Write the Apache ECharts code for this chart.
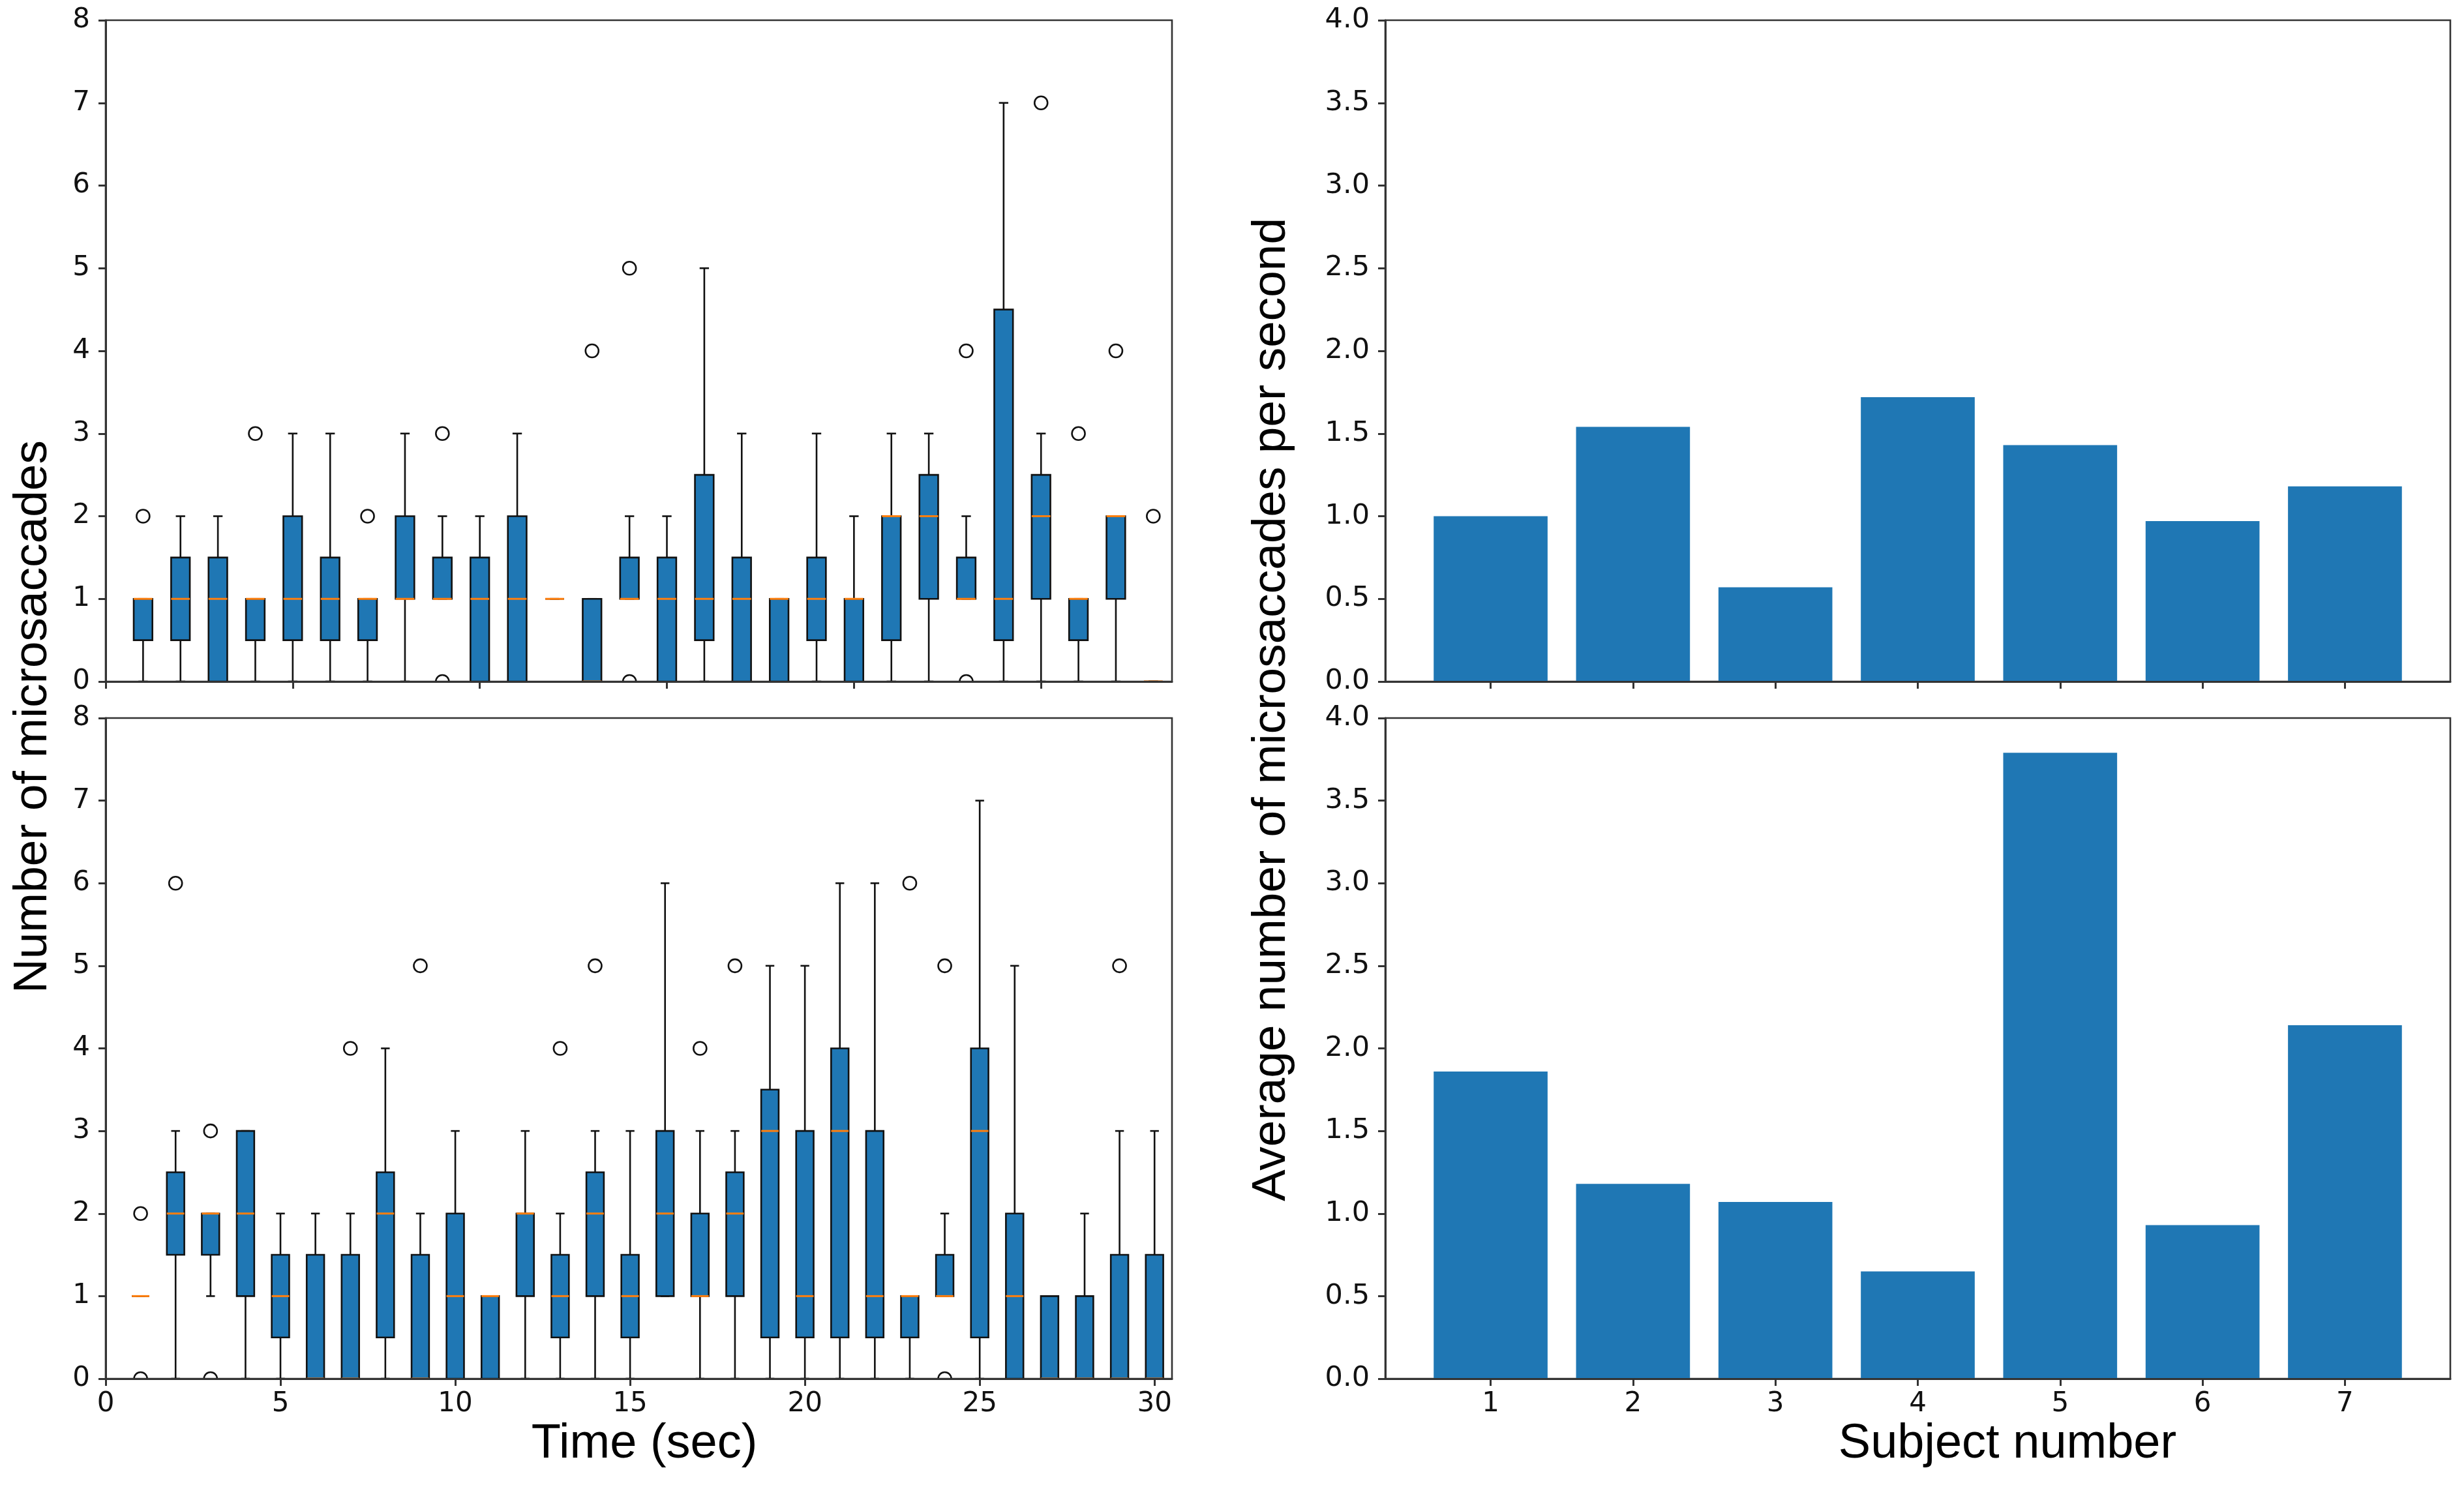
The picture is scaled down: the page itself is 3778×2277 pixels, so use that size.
<!DOCTYPE html>
<html>
<head>
<meta charset="utf-8">
<script src="https://cdn.jsdelivr.net/npm/echarts@6/dist/echarts.min.js"></script>
<style>
html,body{margin:0;padding:0;background:#fff;}
#chart{width:3778px;height:2277px;}
</style>
</head>
<body>
<div id="chart"></div>
<script>
// ---- Top-left boxplot (28 time bins) ----
const topLow  = [0,0,0,0,0,0,0,0,1,0,0,1,0,1,0,0,0,0,0,0,0,0,1,0,0,0,0,0];
const topQ1   = [0.5,0.5,0,0.5,0.5,0.5,0.5,1,1,0,0,1,0,1,0,0.5,0,0,0.5,0,0.5,1,1,0.5,1,0.5,1,0];
const topMed  = [1,1,1,1,1,1,1,1,1,1,1,1,0,1,1,1,1,1,1,1,2,2,1,1,2,1,2,0];
const topQ3   = [1,1.5,1.5,1,2,1.5,1,2,1.5,1.5,2,1,1,1.5,1.5,2.5,1.5,1,1.5,1,2,2.5,1.5,4.5,2.5,1,2,0];
const topHigh = [1,2,2,1,3,3,1,3,2,2,3,1,1,2,2,5,3,1,3,2,3,3,2,7,3,1,2,0];
const topOutliers = [[2],[],[],[3],[],[],[2],[],[3,0],[],[],[],[4],[5,0],[],[],[],[],[],[],[],[],[4,0],[],[7],[3],[4],[2]];

// ---- Bottom-left boxplot (30 time bins) ----
const botLow  = [1,0,1,0,0,0,0,0,0,0,0,0,0,0,0,1,0,0,0,0,0,0,0,1,0,0,0,0,0,0];
const botQ1   = [1,1.5,1.5,1,0.5,0,0,0.5,0,0,0,1,0.5,1,0.5,1,1,1,0.5,0.5,0.5,0.5,0.5,1,0.5,0,0,0,0,0];
const botMed  = [1,2,2,2,1,0,0,2,0,1,1,2,1,2,1,2,1,2,3,1,3,1,1,1,3,1,0,0,0,0];
const botQ3   = [1,2.5,2,3,1.5,1.5,1.5,2.5,1.5,2,1,2,1.5,2.5,1.5,3,2,2.5,3.5,3,4,3,1,1.5,4,2,1,1,1.5,1.5];
const botHigh = [1,3,2,3,2,2,2,4,2,3,1,3,2,3,3,6,3,3,5,5,6,6,1,2,7,5,1,2,3,3];
const botOutliers = [[2,0],[6],[3,0],[],[],[],[4],[],[5],[],[],[],[4],[5],[],[],[4],[5],[],[],[],[],[6],[5,0],[],[],[],[],[5],[]];

// ---- Right bar charts (7 subjects) ----
const subjects = [1,2,3,4,5,6,7];
const topRates = [1.00,1.54,0.57,1.72,1.43,0.97,1.18];
const botRates = [1.86,1.18,1.07,0.65,3.79,0.93,2.14];

const leftXTicks = [0,5,10,15,20,25,30];
const topLeftXTicks = [0,5,10,15,20,25];

const BLUE = '#1f77b4', ORANGE = '#ff7f0e', EDGE = '#111';

function boxData(lo,q1,md,q3,hi){ return lo.map((v,i)=>[i+1,v,q1[i],md[i],q3[i],hi[i]]); }
function outlierData(list){ const d=[]; list.forEach((arr,i)=>arr.forEach(v=>d.push([i+1,v]))); return d; }
function barData(xs,vs){ return xs.map((x,i)=>[x,vs[i]]); }

function renderBox(params, api){
  const x = api.value(0);
  const lo=api.value(1), q1=api.value(2), md=api.value(3), q3=api.value(4), hi=api.value(5);
  const cx = api.coord([x,0])[0];
  const yLo=api.coord([x,lo])[1], yQ1=api.coord([x,q1])[1], yMd=api.coord([x,md])[1], yQ3=api.coord([x,q3])[1], yHi=api.coord([x,hi])[1];
  const hb = api.size([0.25,0])[0];
  const hc = api.size([0.125,0])[0];
  const ls = {stroke:EDGE, lineWidth:2.6};
  return {type:'group', children:[
    {type:'line', shape:{x1:cx,y1:yLo,x2:cx,y2:yQ1}, style:ls},
    {type:'line', shape:{x1:cx,y1:yQ3,x2:cx,y2:yHi}, style:ls},
    {type:'line', shape:{x1:cx-hc,y1:yLo,x2:cx+hc,y2:yLo}, style:ls},
    {type:'line', shape:{x1:cx-hc,y1:yHi,x2:cx+hc,y2:yHi}, style:ls},
    {type:'rect', shape:{x:cx-hb,y:yQ3,width:2*hb,height:yQ1-yQ3}, style:{fill:BLUE, stroke:EDGE, lineWidth:2.6}},
    {type:'line', shape:{x1:cx-hb,y1:yMd,x2:cx+hb,y2:yMd}, style:{stroke:ORANGE, lineWidth:3}}
  ]};
}
function renderOutlier(params, api){
  const p = api.coord([api.value(0), api.value(1)]);
  return {type:'circle', shape:{cx:p[0], cy:p[1], r:10}, style:{fill:'none', stroke:EDGE, lineWidth:2.6}};
}
function renderBar(params, api){
  const x = api.value(0), v = api.value(1);
  const p1 = api.coord([x-0.4, v]), p2 = api.coord([x+0.4, 0]);
  return {type:'rect', shape:{x:p1[0], y:p1[1], width:p2[0]-p1[0], height:p2[1]-p1[1]}, style:{fill:BLUE}};
}

const tickFont = {fontFamily:'DejaVu Sans', fontSize:42, color:'#111'};
const axisLineStyle = {color:'#333', width:3};

function valueX(idx, min, max, ticks, showLabels){
  return {gridIndex:idx, type:'value', min:min, max:max, z:10,
    splitLine:{show:false},
    axisLine:{show:true, onZero:false, lineStyle:axisLineStyle},
    axisTick:{show:true, length:11, lineStyle:axisLineStyle, customValues:ticks},
    axisLabel:Object.assign({show:showLabels, margin:18, customValues:ticks}, tickFont)};
}
function valueY(idx, max, interval, fmt, fs){
  return {gridIndex:idx, type:'value', min:0, max:max, interval:interval, z:10,
    splitLine:{show:false},
    axisLine:{show:true, lineStyle:axisLineStyle},
    axisTick:{show:true, length:11, lineStyle:axisLineStyle},
    axisLabel:Object.assign({margin:24, formatter:fmt}, tickFont, {fontSize:fs})};
}

const gridStyle = {show:true, borderColor:'#333', borderWidth:2.6, backgroundColor:'transparent', containLabel:false};

const option = {
  backgroundColor:'#ffffff',
  animation:false,
  grid:[
    Object.assign({left:162, top:31, width:1635, height:1014}, gridStyle),
    Object.assign({left:162, top:1101, width:1635, height:1013}, gridStyle),
    Object.assign({left:2124, top:31, width:1633, height:1014}, gridStyle),
    Object.assign({left:2124, top:1101, width:1633, height:1013}, gridStyle)
  ],
  xAxis:[
    valueX(0, 0, 28.5, topLeftXTicks, false),
    valueX(1, 0, 30.5, leftXTicks, true),
    valueX(2, 0.26, 7.74, subjects, false),
    valueX(3, 0.26, 7.74, subjects, true)
  ],
  yAxis:[
    valueY(0, 8, 1, v=>String(v), 42),
    valueY(1, 8, 1, v=>String(v), 42),
    valueY(2, 4, 0.5, v=>v.toFixed(1), 43),
    valueY(3, 4, 0.5, v=>v.toFixed(1), 43)
  ],
  series:[
    {type:'custom', xAxisIndex:0, yAxisIndex:0, clip:true, renderItem:renderBox, data:boxData(topLow,topQ1,topMed,topQ3,topHigh), z:2},
    {type:'custom', xAxisIndex:0, yAxisIndex:0, clip:true, renderItem:renderOutlier, data:outlierData(topOutliers), z:3},
    {type:'custom', xAxisIndex:1, yAxisIndex:1, clip:true, renderItem:renderBox, data:boxData(botLow,botQ1,botMed,botQ3,botHigh), z:2},
    {type:'custom', xAxisIndex:1, yAxisIndex:1, clip:true, renderItem:renderOutlier, data:outlierData(botOutliers), z:3},
    {type:'custom', xAxisIndex:2, yAxisIndex:2, clip:true, renderItem:renderBar, data:barData(subjects, topRates), z:2},
    {type:'custom', xAxisIndex:3, yAxisIndex:3, clip:true, renderItem:renderBar, data:barData(subjects, botRates), z:2}
  ],
  graphic:[
    {type:'text', x:51, y:1099, rotation:Math.PI/2,
      style:{text:'Number of microsaccades', fontFamily:'Liberation Sans', fontSize:73, fill:'#000', align:'center', verticalAlign:'middle'}},
    {type:'text', x:1950, y:1088, rotation:Math.PI/2,
      style:{text:'Average number of microsaccades per second', fontFamily:'Liberation Sans', fontSize:73, fill:'#000', align:'center', verticalAlign:'middle'}},
    {type:'text', x:988, y:2215,
      style:{text:'Time (sec)', fontFamily:'Liberation Sans', fontSize:74, fill:'#000', align:'center', verticalAlign:'middle'}},
    {type:'text', x:3078, y:2215,
      style:{text:'Subject number', fontFamily:'Liberation Sans', fontSize:74, fill:'#000', align:'center', verticalAlign:'middle'}}
  ]
};

const chart = echarts.init(document.getElementById('chart'), null, {renderer:'canvas'});
chart.setOption(option);
</script>
</body>
</html>
